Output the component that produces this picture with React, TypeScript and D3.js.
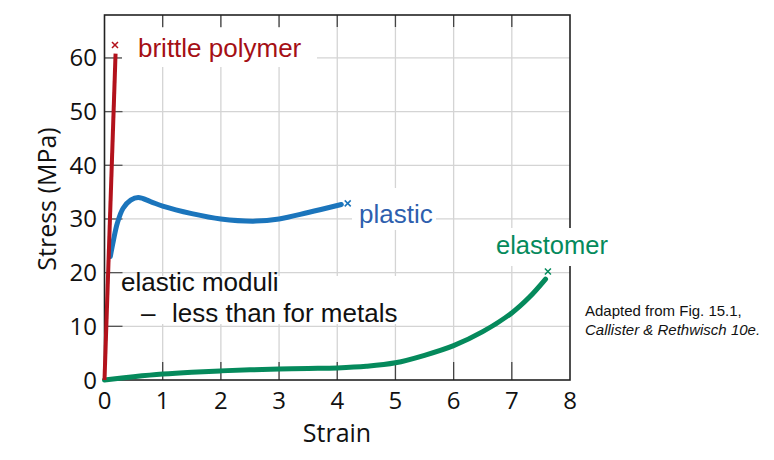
import React from 'react';
import * as d3 from 'd3';

// ticks
const strainTicks = [0, 1, 2, 3, 4, 5, 6, 7, 8];
const stressTicks = [0, 10, 20, 30, 40, 50, 60];

// curves (strain, stress in MPa)
const brittleStrain = [0, 0.19];
const brittleStress = [0, 60.8];

const plasticStrain = [0.1, 0.15, 0.22, 0.32, 0.45, 0.58, 0.8, 1.0, 1.5, 2.0, 2.6, 3.0, 3.5, 4.07];
const plasticStress = [23, 25.8, 29.2, 32.0, 33.5, 34.0, 33.2, 32.4, 31.0, 30.0, 29.6, 30.0, 31.2, 32.7];

const elastomerStrain = [0, 0.5, 1, 1.5, 2, 2.5, 3, 3.5, 4, 4.5, 5, 5.5, 6, 6.5, 7, 7.3, 7.58];
const elastomerStress = [0, 0.6, 1.1, 1.45, 1.7, 1.9, 2.05, 2.15, 2.25, 2.55, 3.2, 4.6, 6.4, 9.0, 12.5, 15.4, 18.8];

// fracture points (x marks)
const breakStrain = [0.18, 4.18, 7.62];
const breakStress = [62.4, 32.9, 20.2];

const RED = '#b3121c';
const BLUE = '#1b75bc';
const GREEN = '#058a5c';
const tickFont = '"Open Sans", sans-serif';
const textFont = '"Liberation Sans", Arial, sans-serif';

const x = d3.scaleLinear().domain([0, 8]).range([104.5, 570]);
const y = d3.scaleLinear().domain([0, 68]).range([380, 15]);

const line = d3
  .line<[number, number]>()
  .x((d) => x(d[0]))
  .y((d) => y(d[1]));

const zip = (a: number[], b: number[]) => a.map((v, i) => [v, b[i]] as [number, number]);

const App: React.FC = () => {
  const smooth = line.curve(d3.curveCatmullRom.alpha(0.5));
  const plasticPath = smooth(zip(plasticStrain, plasticStress)) || '';
  const elastomerPath = smooth(zip(elastomerStrain, elastomerStress)) || '';
  const brittlePath = line.curve(d3.curveLinear)(zip(brittleStrain, brittleStress)) || '';
  const colors = [RED, BLUE, GREEN];

  return (
    <svg
      width={774}
      height={460}
      style={{ position: 'absolute', left: 0, top: 0, background: '#fff' }}
    >
      {/* grid */}
      {strainTicks.slice(1, -1).map((t) => (
        <line key={'gx' + t} x1={x(t)} x2={x(t)} y1={y(0)} y2={y(68)} stroke="#d4d4d4" strokeWidth={1.3} />
      ))}
      {stressTicks.slice(1).map((t) => (
        <line key={'gy' + t} x1={x(0)} x2={x(8)} y1={y(t)} y2={y(t)} stroke="#d4d4d4" strokeWidth={1.3} />
      ))}

      {/* ticks inside the frame */}
      {strainTicks.slice(1, -1).map((t) => (
        <g key={'tx' + t} stroke="#444" strokeWidth={1.3}>
          <line x1={x(t)} x2={x(t)} y1={y(0)} y2={y(0) - 18} />
          <line x1={x(t)} x2={x(t)} y1={y(68)} y2={y(68) + 12} />
        </g>
      ))}
      {stressTicks.slice(1).map((t) => (
        <line key={'ty' + t} x1={x(0)} x2={x(0) + 18} y1={y(t)} y2={y(t)} stroke="#555" strokeWidth={1.3} />
      ))}

      {/* frame */}
      <rect x={x(0)} y={y(68)} width={x(8) - x(0)} height={y(0) - y(68)} fill="none" stroke="#222" strokeWidth={1.6} />

      {/* white boxes behind labels */}
      <rect x={122} y={28} width={195} height={39} fill="#fff" />
      <rect x={352} y={188} width={84} height={42} fill="#fff" />
      <rect x={490} y={228} width={126} height={38} fill="#fff" />
      <rect x={117} y={276} width={284} height={48} fill="#fff" />

      {/* curves */}
      <path d={elastomerPath} fill="none" stroke={GREEN} strokeWidth={5} strokeLinecap="round" />
      <path d={plasticPath} fill="none" stroke={BLUE} strokeWidth={5} strokeLinecap="round" />
      <path d={brittlePath} fill="none" stroke={RED} strokeWidth={4} />

      {breakStrain.map((s, i) => (
        <g key={'m' + i} stroke={colors[i]} strokeWidth={1.5}>
          <line x1={x(s) - 3} x2={x(s) + 3} y1={y(breakStress[i]) - 3} y2={y(breakStress[i]) + 3} />
          <line x1={x(s) - 3} x2={x(s) + 3} y1={y(breakStress[i]) + 3} y2={y(breakStress[i]) - 3} />
        </g>
      ))}

      {/* tick labels */}
      {strainTicks.map((t) => (
        <text key={'lx' + t} x={x(t)} y={409} textAnchor="middle" fontFamily={tickFont} fontSize={24} fill="#111">
          {t}
        </text>
      ))}
      {stressTicks.map((t) => (
        <text key={'ly' + t} x={97} y={y(t) + 8.5} textAnchor="end" fontFamily={tickFont} fontSize={24} fill="#111">
          {t}
        </text>
      ))}
      <text x={337} y={442} textAnchor="middle" fontFamily={tickFont} fontSize={25} fill="#111">
        Strain
      </text>
      <text
        transform="translate(56,199) rotate(-90)"
        textAnchor="middle"
        fontFamily={tickFont}
        fontSize={25}
        fill="#111"
      >
        Stress (MPa)
      </text>

      {/* series labels */}
      <text x={138} y={57} fontFamily={textFont} fontSize={26} fill="#a50f15">
        brittle polymer
      </text>
      <text x={359} y={223} fontFamily={textFont} fontSize={26} fill="#2e5fae">
        plastic
      </text>
      <text x={496} y={254} fontFamily={textFont} fontSize={25.5} fill={GREEN}>
        elastomer
      </text>
      <text fontFamily={textFont} fontSize={26} fill="#111">
        <tspan x={121} y={291}>elastic moduli</tspan>
        <tspan x={141} y={322}>{'\u2013'}</tspan>
        <tspan x={172} y={322}>less than for metals</tspan>
      </text>

      <text fontFamily={textFont} fontSize={15} fill="#111">
        <tspan x={585} y={316}>Adapted from Fig. 15.1,</tspan>
        <tspan x={585} y={335} fontStyle="italic">Callister &amp; Rethwisch 10e.</tspan>
      </text>
    </svg>
  );
};

export default App;
